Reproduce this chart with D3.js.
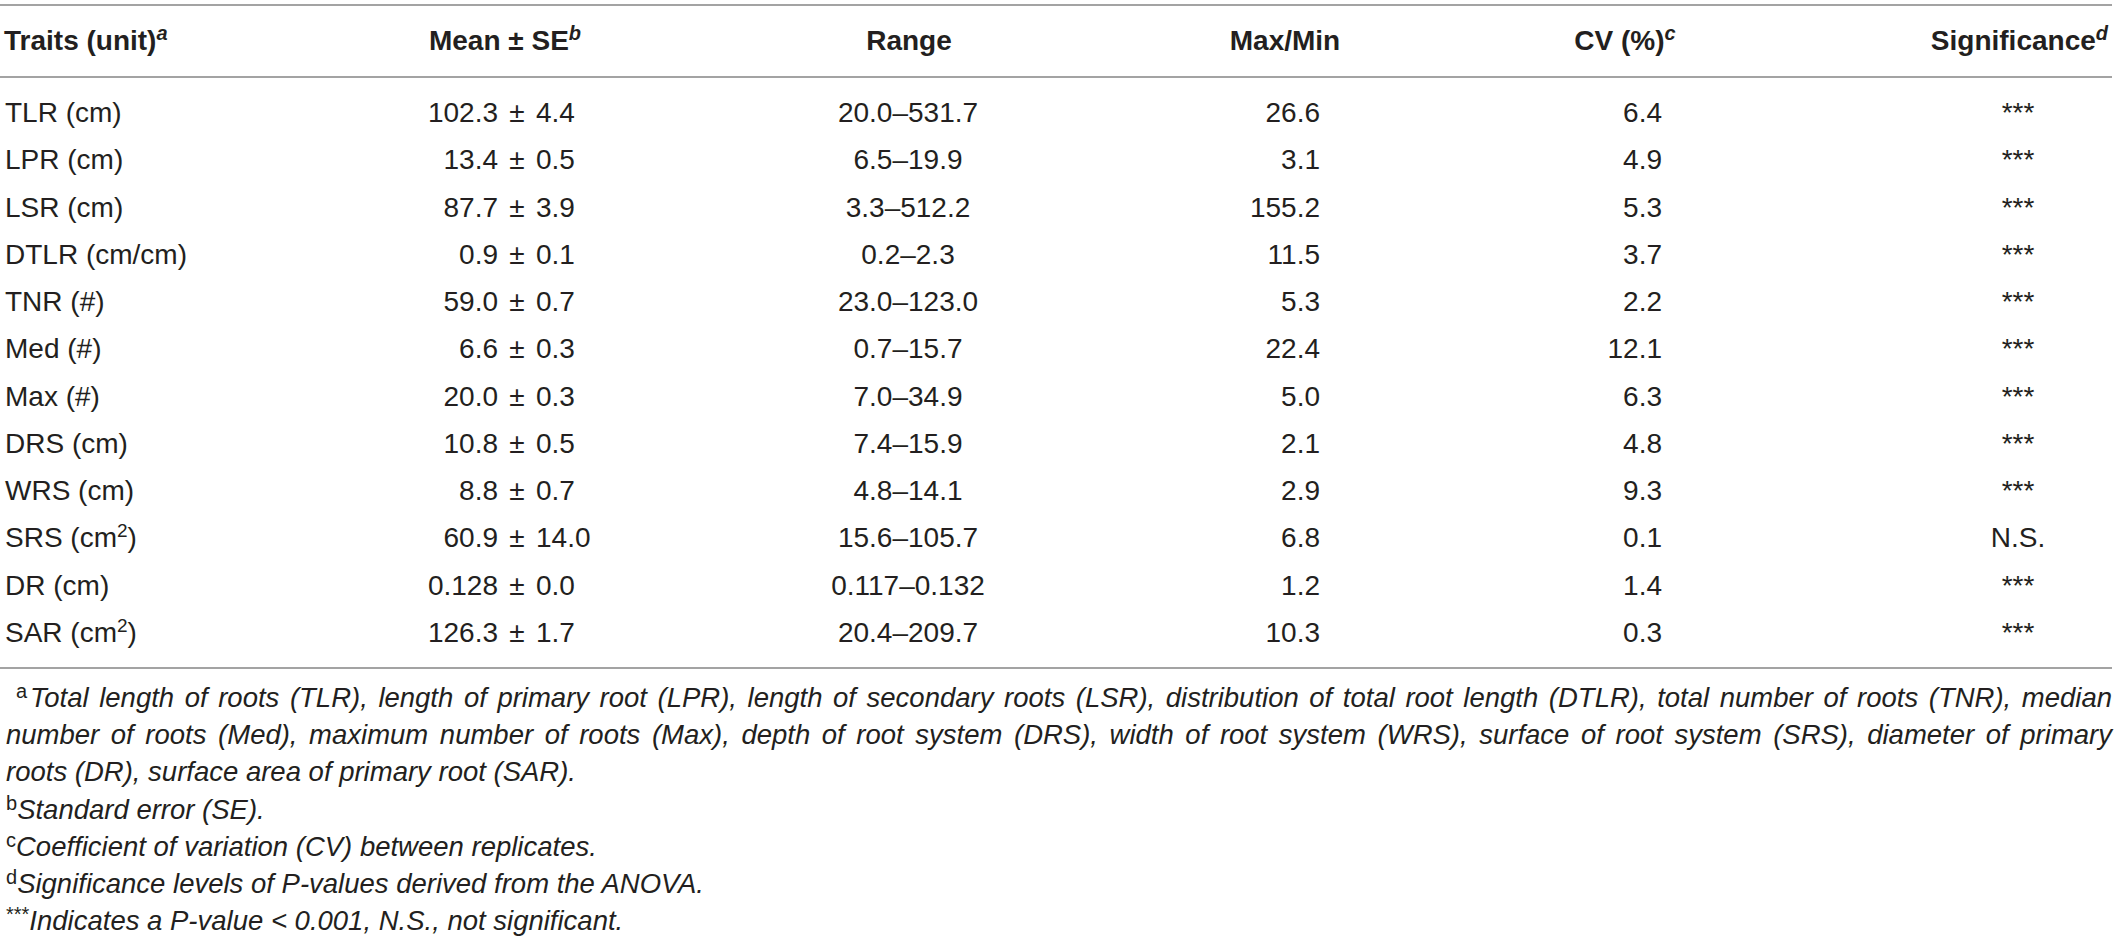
<!DOCTYPE html>
<html>
<head>
<meta charset="utf-8">
<script src="https://cdn.jsdelivr.net/npm/d3@7/dist/d3.min.js"></script>
<style>
  body { margin: 0; background: #fff; }
  text { font-family: "Liberation Sans", Arial, sans-serif; fill: #231f20; }
</style>
</head>
<body>
<div id="table-area"></div>
<script>
// table values
var traits = ["TLR", "LPR", "LSR", "DTLR", "TNR", "Med", "Max", "DRS", "WRS", "SRS", "DR", "SAR"];
var units = ["cm", "cm", "cm", "cm/cm", "#", "#", "#", "cm", "cm", "cm^2", "cm", "cm^2"];
var means = ["102.3", "13.4", "87.7", "0.9", "59.0", "6.6", "20.0", "10.8", "8.8", "60.9", "0.128", "126.3"];
var ses = ["4.4", "0.5", "3.9", "0.1", "0.7", "0.3", "0.3", "0.5", "0.7", "14.0", "0.0", "1.7"];
var rangeLow = ["20.0", "6.5", "3.3", "0.2", "23.0", "0.7", "7.0", "7.4", "4.8", "15.6", "0.117", "20.4"];
var rangeHigh = ["531.7", "19.9", "512.2", "2.3", "123.0", "15.7", "34.9", "15.9", "14.1", "105.7", "0.132", "209.7"];
var maxMin = ["26.6", "3.1", "155.2", "11.5", "5.3", "22.4", "5.0", "2.1", "2.9", "6.8", "1.2", "10.3"];
var cvs = ["6.4", "4.9", "5.3", "3.7", "2.2", "12.1", "6.3", "4.8", "9.3", "0.1", "1.4", "0.3"];
var signif = ["***", "***", "***", "***", "***", "***", "***", "***", "***", "N.S.", "***", "***"];

var headers = ["Traits (unit)", "Mean \u00b1 SE", "Range", "Max/Min", "CV (%)", "Significance"];
var headerSups = ["a", "b", "", "", "c", "d"];

var footA = [
  "Total length of roots (TLR), length of primary root (LPR), length of secondary roots (LSR), distribution of total root length (DTLR), total number of roots (TNR), median",
  "number of roots (Med), maximum number of roots (Max), depth of root system (DRS), width of root system (WRS), surface of root system (SRS), diameter of primary",
  "roots (DR), surface area of primary root (SAR)."
];
var footOthers = [
  ["b", "Standard error (SE)."],
  ["c", "Coefficient of variation (CV) between replicates."],
  ["d", "Significance levels of P-values derived from the ANOVA."],
  ["***", "Indicates a P-value < 0.001, N.S., not significant."]
];

var svgWidth = 2119;
var svgHeight = 942;
var fontSize = 28;

var svg = d3.select("#table-area")
  .append("svg")
    .attr("width", svgWidth)
    .attr("height", svgHeight);

// row positions (baselines)
var y = d3.scalePoint()
  .domain(traits)
  .range([122, 642]);

// rules
var rules = [5, 77, 668];
svg.selectAll("line.rule")
  .data(rules)
  .enter()
  .append("line")
  .attr("class", "rule")
  .attr("x1", 0)
  .attr("x2", 2112)
  .attr("y1", function(d) { return d; })
  .attr("y2", function(d) { return d; })
  .attr("stroke", "#a3a3a3")
  .attr("stroke-width", 2);

// header
var headX = [4, 505, 909, 1285, 1625, 2108];
var headAnchor = ["start", "middle", "middle", "middle", "middle", "end"];
var head = svg.selectAll("text.head")
  .data(headers)
  .enter()
  .append("text")
  .attr("class", "head")
  .attr("x", function(d, i) { return headX[i]; })
  .attr("y", 50)
  .attr("text-anchor", function(d, i) { return headAnchor[i]; })
  .style("font-size", fontSize + "px")
  .style("font-weight", "bold");
head.append("tspan").text(function(d) { return d; });
head.append("tspan")
  .attr("dy", -10)
  .style("font-size", "20px")
  .style("font-style", "italic")
  .text(function(d, i) { return headerSups[i]; });

// body rows
var rows = svg.selectAll("g.row")
  .data(traits)
  .enter()
  .append("g")
  .attr("class", "row")
  .attr("transform", function(d) { return "translate(0," + y(d) + ")"; })
  .style("font-size", fontSize + "px");

// trait + unit
var traitText = rows.append("text").attr("x", 5);
traitText.append("tspan").text(function(d, i) {
  return d + " (" + units[i].split("^")[0];
});
traitText.append("tspan")
  .attr("dy", -10)
  .style("font-size", "19px")
  .text(function(d, i) { return units[i].split("^")[1] || ""; });
traitText.append("tspan")
  .attr("dy", function(d, i) { return units[i].indexOf("^") > -1 ? 10 : 0; })
  .text(")");

// mean +- se, aligned on the sign
rows.append("text")
  .attr("x", 498)
  .attr("text-anchor", "end")
  .text(function(d, i) { return means[i]; });
rows.append("text")
  .attr("x", 517)
  .attr("text-anchor", "middle")
  .text("\u00b1");
rows.append("text")
  .attr("x", 536)
  .text(function(d, i) { return ses[i]; });

// range
rows.append("text")
  .attr("x", 908)
  .attr("text-anchor", "middle")
  .text(function(d, i) { return rangeLow[i] + "\u2013" + rangeHigh[i]; });

// max/min
rows.append("text")
  .attr("x", 1320)
  .attr("text-anchor", "end")
  .text(function(d, i) { return maxMin[i]; });

// cv
rows.append("text")
  .attr("x", 1662)
  .attr("text-anchor", "end")
  .text(function(d, i) { return cvs[i]; });

// significance
rows.append("text")
  .attr("x", 2018)
  .attr("text-anchor", "middle")
  .text(function(d, i) { return signif[i]; });

// footnotes
var footY = d3.scaleLinear().domain([0, 6]).range([707, 930]);
var footSize = 27.5;

// justified line: place words one by one between x0 and x1
function justify(str, x0, x1, yy) {
  var words = str.split(" ");
  var g = svg.append("g")
    .style("font-size", footSize + "px")
    .style("font-style", "italic");
  var nodes = words.map(function(w) {
    return g.append("text").attr("y", yy).text(w);
  });
  var widths = nodes.map(function(n) { return n.node().getComputedTextLength(); });
  var gap = (x1 - x0 - d3.sum(widths)) / (words.length - 1);
  var x = x0;
  nodes.forEach(function(n, i) {
    n.attr("x", x);
    x += widths[i] + gap;
  });
}

svg.append("text")
  .attr("x", 16)
  .attr("y", footY(0) - 9)
  .style("font-size", "20px")
  .text("a");
justify(footA[0], 30, 2112, footY(0));
justify(footA[1], 6, 2112, footY(1));
svg.append("text")
  .attr("x", 6)
  .attr("y", footY(2))
  .style("font-size", footSize + "px")
  .style("font-style", "italic")
  .text(footA[2]);

footOthers.forEach(function(f, i) {
  var t = svg.append("text")
    .attr("x", 6)
    .attr("y", footY(i + 3))
    .style("font-size", footSize + "px");
  t.append("tspan")
    .attr("dy", -9)
    .style("font-size", "20px")
    .text(f[0]);
  t.append("tspan")
    .attr("dy", 9)
    .style("font-style", "italic")
    .text(f[1]);
});
</script>
</body>
</html>
